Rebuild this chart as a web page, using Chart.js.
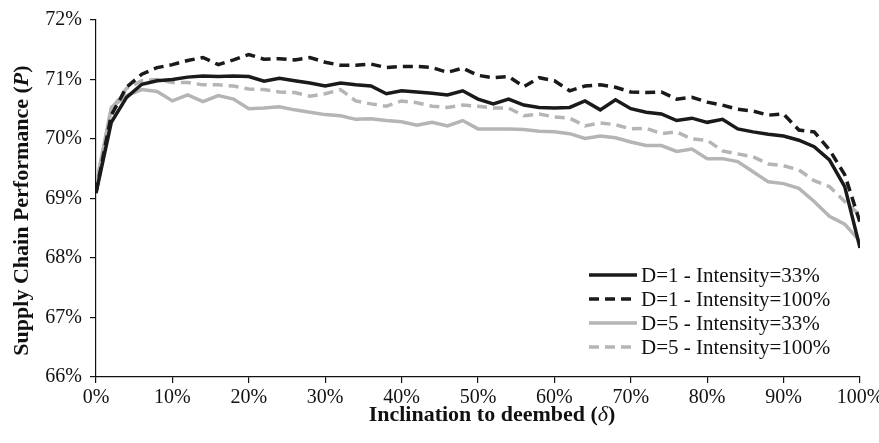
<!DOCTYPE html>
<html>
<head>
<meta charset="utf-8">
<script src="https://cdn.jsdelivr.net/npm/chart.js@4.4.0/dist/chart.umd.min.js"></script>
<style>
  html, body { margin: 0; padding: 0; background: #fff; }
  #wrap { width: 879px; height: 443px; }
</style>
</head>
<body>
<div id="wrap"><canvas id="perfChart" width="879" height="443"></canvas></div>
<script>
// inclination to deembed (%), every 2%
const inclination = [0, 2, 4, 6, 8, 10, 12, 14, 16, 18, 20, 22, 24, 26, 28, 30, 32, 34, 36, 38, 40,
	42, 44, 46, 48, 50, 52, 54, 56, 58, 60, 62, 64, 66, 68, 70, 72, 74, 76, 78, 80,
	82, 84, 86, 88, 90, 92, 94, 96, 98, 100];

// supply chain performance (%)
const d1Int33 = [69.09, 70.28, 70.70, 70.92, 70.98, 71.00, 71.04, 71.06, 71.05, 71.06, 71.05,
	70.97, 71.02, 70.98, 70.94, 70.89, 70.94, 70.91, 70.89, 70.76, 70.81,
	70.79, 70.77, 70.74, 70.81, 70.67, 70.59, 70.67, 70.57, 70.53, 70.52,
	70.53, 70.64, 70.49, 70.66, 70.51, 70.45, 70.42, 70.31, 70.35, 70.28,
	70.33, 70.17, 70.12, 70.08, 70.05, 69.98, 69.87, 69.65, 69.20, 68.17];

const d1Int100 = [69.10, 70.40, 70.87, 71.09, 71.20, 71.25, 71.32, 71.37, 71.25, 71.33, 71.42,
	71.34, 71.35, 71.33, 71.37, 71.29, 71.24, 71.24, 71.26, 71.20, 71.22,
	71.22, 71.20, 71.12, 71.19, 71.07, 71.03, 71.05, 70.88, 71.03, 70.98,
	70.81, 70.89, 70.91, 70.87, 70.79, 70.78, 70.79, 70.67, 70.70, 70.62,
	70.57, 70.50, 70.47, 70.40, 70.42, 70.15, 70.12, 69.82, 69.40, 68.60];

const d5Int33 = [69.22, 70.53, 70.73, 70.83, 70.80, 70.64, 70.74, 70.63, 70.73, 70.67, 70.51,
	70.52, 70.54, 70.49, 70.45, 70.41, 70.39, 70.33, 70.34, 70.31, 70.29,
	70.23, 70.28, 70.22, 70.31, 70.17, 70.17, 70.17, 70.16, 70.13, 70.12,
	70.09, 70.01, 70.05, 70.02, 69.95, 69.89, 69.89, 69.79, 69.83, 69.67,
	69.67, 69.62, 69.45, 69.28, 69.25, 69.17, 68.95, 68.70, 68.57, 68.28];

const d5Int100 = [69.22, 70.50, 70.85, 70.98, 71.00, 70.95, 70.95, 70.91, 70.91, 70.89, 70.84,
	70.83, 70.79, 70.78, 70.72, 70.76, 70.83, 70.64, 70.59, 70.55, 70.64,
	70.61, 70.55, 70.53, 70.57, 70.55, 70.52, 70.52, 70.39, 70.42, 70.37,
	70.35, 70.22, 70.27, 70.24, 70.17, 70.18, 70.09, 70.12, 70.00, 69.98,
	69.80, 69.75, 69.70, 69.58, 69.55, 69.48, 69.30, 69.20, 68.95, 68.72];

const seriesNames = ['D=1 - Intensity=33%', 'D=1 - Intensity=100%', 'D=5 - Intensity=33%', 'D=5 - Intensity=100%'];
const xTickStep = 10;
const yMin = 66, yMax = 72;

const serif = "'Liberation Serif', 'DejaVu Serif', serif";
const toPoints = vals => vals.map((v, i) => ({ x: inclination[i], y: v }));

const line = (label, vals, color, dash) => ({
	label: label,
	data: toPoints(vals),
	borderColor: color,
	borderWidth: 3.5,
	borderDash: dash,
	pointRadius: 0,
	tension: 0,
	fill: false
});

// legend drawn inside the plot, bottom right
const innerLegend = {
	id: 'innerLegend',
	afterDatasetsDraw(chart) {
		const { ctx, chartArea } = chart;
		const x0 = chartArea.right - 271, x1 = chartArea.right - 223;
		ctx.save();
		ctx.font = '21px ' + serif;
		ctx.fillStyle = '#111';
		ctx.textBaseline = 'middle';
		chart.data.datasets.forEach((ds, i) => {
			const y = chartArea.bottom - 102 + i * 24;
			ctx.beginPath();
			ctx.setLineDash(ds.borderDash || []);
			ctx.strokeStyle = ds.borderColor;
			ctx.lineWidth = ds.borderWidth;
			ctx.moveTo(x0, y);
			ctx.lineTo(x1, y);
			ctx.stroke();
			ctx.setLineDash([]);
			ctx.fillText(ds.label, x1 + 4, y + 1);
		});
		ctx.restore();
	}
};

// axis titles with italic symbols
const drawParts = (ctx, parts, x, y) => {
	const widths = parts.map(p => { ctx.font = p[1]; return ctx.measureText(p[0]).width; });
	let cx = x - widths.reduce((a, b) => a + b, 0) / 2;
	parts.forEach((p, i) => {
		ctx.font = p[1];
		ctx.fillText(p[0], cx, y);
		cx += widths[i];
	});
};

const axisTitles = {
	id: 'axisTitles',
	afterDraw(chart) {
		const { ctx, chartArea } = chart;
		const bold = 'bold 22px ' + serif, boldIt = 'italic bold 22px ' + serif, it = 'italic 22px ' + serif;
		ctx.save();
		ctx.fillStyle = '#111';
		ctx.textAlign = 'left';
		ctx.textBaseline = 'middle';
		drawParts(ctx, [['Inclination to deembed (', bold], ['δ', it], [')', bold]],
			(chartArea.left + chartArea.right) / 2 + 14, chartArea.bottom + 38);
		ctx.translate(22, (chartArea.top + chartArea.bottom) / 2 + 12);
		ctx.rotate(-Math.PI / 2);
		drawParts(ctx, [['Supply Chain Performance (', bold], ['P', boldIt], [')', bold]], 0, 0);
		ctx.restore();
	}
};

new Chart(document.getElementById('perfChart'), {
	type: 'line',
	data: {
		datasets: [
			line(seriesNames[0], d1Int33, '#1a1a1a', []),
			line(seriesNames[1], d1Int100, '#1a1a1a', [10, 6]),
			line(seriesNames[2], d5Int33, '#b5b5b5', []),
			line(seriesNames[3], d5Int100, '#b5b5b5', [10, 6])
		]
	},
	options: {
		responsive: false,
		animation: false,
		layout: { padding: { top: 17, right: 19, left: 0, bottom: 0 } },
		plugins: {
			legend: { display: false },
			tooltip: { enabled: false }
		},
		scales: {
			x: {
				type: 'linear',
				min: 0,
				max: 100,
				border: { color: '#111', width: 1.2 },
				grid: { drawOnChartArea: false, color: '#111', tickLength: 6, lineWidth: 1.2 },
				ticks: {
					stepSize: xTickStep,
					color: '#111',
					font: { family: serif, size: 20 },
					padding: 3,
					maxRotation: 0,
					callback: v => v + '%'
				},
				afterFit(scale) {
					scale.height = 66;
					scale.paddingLeft = 0;
					scale.paddingRight = 0;
				}
			},
			y: {
				min: yMin,
				max: yMax,
				border: { color: '#111', width: 1.2 },
				grid: { drawOnChartArea: false, color: '#111', tickLength: 6, lineWidth: 1.2 },
				ticks: {
					stepSize: 1,
					color: '#111',
					font: { family: serif, size: 20 },
					padding: 8,
					callback: v => v + '%'
				},
				afterFit(scale) { scale.width = 96; }
			}
		}
	},
	plugins: [innerLegend, axisTitles]
});
</script>
</body>
</html>
